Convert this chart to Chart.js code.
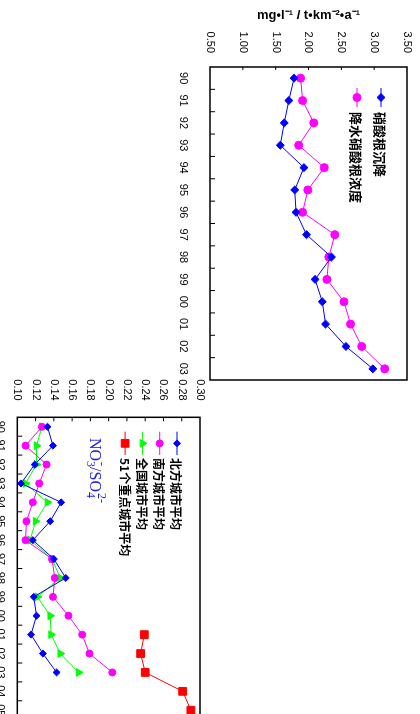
<!DOCTYPE html>
<html>
<head>
<meta charset="utf-8">
<script src="https://cdn.jsdelivr.net/npm/chart.js@4.4.1/dist/chart.umd.min.js"></script>
<style>
  html, body { margin: 0; padding: 0; background: #fff; overflow: hidden; }
  /* the figure is printed sideways: lay it out flat, then turn it a quarter clockwise */
  #page { position: absolute; left: 420px; top: 0; width: 760px; height: 440px;
          transform-origin: 0 0; transform: rotate(90deg); }
  #c1 { position: absolute; left: 0; top: 0; }
  #c2 { position: absolute; left: 330px; top: 200px; }
</style>
</head>
<body>
<div id="page">
  <canvas id="c1" width="400" height="260"></canvas>
  <canvas id="c2" width="400" height="230"></canvas>
</div>
<script>
// upper chart: nitrate deposition / rain nitrate concentration
const years1 = ['90','91','92','93','94','95','96','97','98','99','00','01','02','03'];
const deposition = [1.78, 1.70, 1.63, 1.57, 1.93, 1.79, 1.81, 1.97, 2.35, 2.10, 2.21, 2.26, 2.57, 2.98];
const rainConc   = [1.88, 1.91, 2.08, 1.85, 2.24, 1.99, 1.91, 2.40, 2.31, 2.28, 2.54, 2.64, 2.81, 3.16];
const yMin1 = 0.5, yMax1 = 3.5, yStep1 = 0.5;

// lower chart: NO3-/SO4 2- ratio
const years2 = ['90','91','92','93','94','95','96','97','98','99','00','01','02','03','04','05'];
const north    = [0.133, 0.139, 0.119, 0.104, 0.148, 0.136, 0.117, 0.140, 0.153, 0.118, 0.121, 0.115, 0.128, 0.143];
const south    = [0.127, 0.109, 0.132, 0.124, 0.117, 0.110, 0.109, 0.138, 0.141, 0.139, 0.156, 0.171, 0.179, 0.204];
const national = [0.127, 0.121, 0.121, 0.109, 0.133, 0.120, 0.114, 0.138, 0.147, 0.122, 0.136, 0.137, 0.147, 0.167];
const key51    = [null, null, null, null, null, null, null, null, null, null, null, 0.239, 0.235, 0.240, 0.281, 0.290];
const yMin2 = 0.10, yMax2 = 0.30, yStep2 = 0.02;

Chart.defaults.font.family = '"Liberation Sans", Arial, sans-serif';
Chart.defaults.font.size = 11;
Chart.defaults.color = '#000';

function series(label, data, color, style, r) {
    return {
        label, data,
        borderColor: color, backgroundColor: color,
        borderWidth: 1, tension: 0,
        pointStyle: style, pointRadius: r, pointHoverRadius: r,
        pointBorderWidth: 1
    };
}

// no extra room for label overhang, the layout padding does that
function noOverhang(s) {
    s.paddingTop = 0; s.paddingBottom = 0;
    s.paddingLeft = 0; s.paddingRight = 0;
}

// box around the plot + short inward tick marks
const frame = {
    id: 'frame',
    beforeDatasetsDraw(chart, args, opts) {
        const { ctx, chartArea: a, scales: { x, y } } = chart;
        ctx.save();
        ctx.strokeStyle = '#000';
        ctx.lineWidth = 1;
        ctx.beginPath();
        y.ticks.forEach(t => {
            const py = y.getPixelForValue(t.value);
            if (py > a.top + 1 && py < a.bottom - 1) {
                ctx.moveTo(a.left, py);
                ctx.lineTo(a.left + opts.yLen, py);
            }
        });
        for (let i = 0; i < x.ticks.length - 1; i++) {
            const px = (x.getPixelForValue(i) + x.getPixelForValue(i + 1)) / 2;
            ctx.moveTo(px, a.bottom);
            ctx.lineTo(px, a.bottom - opts.xLen);
        }
        ctx.stroke();
        ctx.lineWidth = 1.5;
        ctx.strokeRect(a.left, a.top, a.right - a.left, a.bottom - a.top);
        ctx.restore();
    }
};

// legend drawn inside the plot: short line, marker, bold label
const boxLegend = {
    id: 'boxLegend',
    afterDraw(chart, args, opts) {
        const ctx = chart.ctx;
        ctx.save();
        chart.data.datasets.forEach((ds, i) => {
            const y = opts.y + i * opts.dy;
            ctx.strokeStyle = ds.borderColor;
            ctx.fillStyle = ds.backgroundColor;
            ctx.lineWidth = 1;
            ctx.beginPath();
            ctx.moveTo(opts.x0, y);
            ctx.lineTo(opts.x1, y);
            ctx.stroke();
            Chart.helpers.drawPoint(ctx, { pointStyle: ds.pointStyle, radius: ds.pointRadius, rotation: 0, borderWidth: 1 },
                (opts.x0 + opts.x1) / 2, y);
            ctx.fillStyle = '#000';
            ctx.font = opts.font;
            ctx.textBaseline = 'middle';
            ctx.fillText(ds.label, opts.tx, y + 1);
        });
        ctx.restore();
    }
};

// NO3-/SO4 2- label with sub/superscripts
const ratioLabel = {
    id: 'ratioLabel',
    afterDraw(chart) {
        const ctx = chart.ctx;
        let x = 108, y = 130;
        const big = '16px "Liberation Serif", "Times New Roman", serif';
        const small = '12px "Liberation Serif", "Times New Roman", serif';
        ctx.save();
        ctx.fillStyle = '#2020e0';
        ctx.textBaseline = 'alphabetic';
        const part = (txt, sub, sup) => {
            ctx.font = big;
            ctx.fillText(txt, x, y);
            x += ctx.measureText(txt).width;
            ctx.font = small;
            let w = 0;
            if (sub) { ctx.fillText(sub, x, y + 3); w = ctx.measureText(sub).width; }
            if (sup) { ctx.fillText(sup, x + 1, y - 8); w = Math.max(w, ctx.measureText(sup).width + 1); }
            x += w;
        };
        part('NO', '3', '-');
        part('/SO', '4', '2-');
        ctx.restore();
    }
};

new Chart(document.getElementById('c1'), {
    type: 'line',
    data: {
        labels: years1,
        datasets: [
            series('硝酸根沉降', deposition, '#0000ff', 'rectRot', 4),
            series('降水硝酸根浓度', rainConc, '#ff00ff', 'circle', 4)
        ]
    },
    options: {
        responsive: false,
        animation: false,
        layout: { padding: { left: 0, top: 13, right: 20, bottom: 0 } },
        plugins: {
            legend: { display: false },
            tooltip: { enabled: false },
            frame: { xLen: 5, yLen: 3 },
            boxLegend: { x0: 88, x1: 107, tx: 112, y: 39, dy: 24, font: 'bold 13px "Noto Sans CJK SC"' }
        },
        scales: {
            x: {
                offset: true,
                grid: { display: false, drawTicks: false },
                border: { display: false },
                ticks: { autoSkip: false, maxRotation: 0, padding: 20 },
                afterFit: s => { s.height = 50; noOverhang(s); }
            },
            y: {
                min: yMin1, max: yMax1,
                grid: { display: false, drawTicks: false },
                border: { display: false },
                ticks: { stepSize: yStep1, padding: 14, callback: v => v.toFixed(2) },
                title: { display: true, text: 'mg•l⁻¹ / t•km⁻²•a⁻¹', font: { weight: 'bold', size: 13 }, padding: { top: 8, bottom: 0 } },
                afterFit: s => { s.width = 67; noOverhang(s); }
            }
        }
    },
    plugins: [frame, boxLegend]
});

new Chart(document.getElementById('c2'), {
    type: 'line',
    data: {
        labels: years2,
        datasets: [
            series('北方城市平均', north, '#0000ff', 'rectRot', 3.5),
            series('南方城市平均', south, '#ff00ff', 'circle', 3.5),
            series('全国城市平均', national, '#00ff00', 'triangle', 4.5),
            series('51个重点城市平均', key51, '#ff0000', 'rect', 5.5)
        ]
    },
    options: {
        responsive: false,
        animation: false,
        layout: { padding: { left: 0, top: 20, right: 10.3, bottom: 0 } },
        plugins: {
            legend: { display: false },
            tooltip: { enabled: false },
            frame: { xLen: 5, yLen: 4 },
            boxLegend: { x0: 101.7, x1: 125, tx: 128, y: 43, dy: 17.3, font: 'bold 12px "Noto Sans CJK SC"' }
        },
        scales: {
            x: {
                offset: true,
                grid: { display: false, drawTicks: false },
                border: { display: false },
                ticks: { autoSkip: false, maxRotation: 0, padding: 11 },
                afterFit: s => { s.height = 27.3; noOverhang(s); }
            },
            y: {
                min: yMin2, max: yMax2,
                grid: { display: false, drawTicks: false },
                border: { display: false },
                ticks: { stepSize: yStep2, padding: 16.6, callback: v => v.toFixed(2) },
                afterFit: s => { s.width = 87.3; noOverhang(s); }
            }
        }
    },
    plugins: [frame, boxLegend, ratioLabel]
});
</script>
</body>
</html>
